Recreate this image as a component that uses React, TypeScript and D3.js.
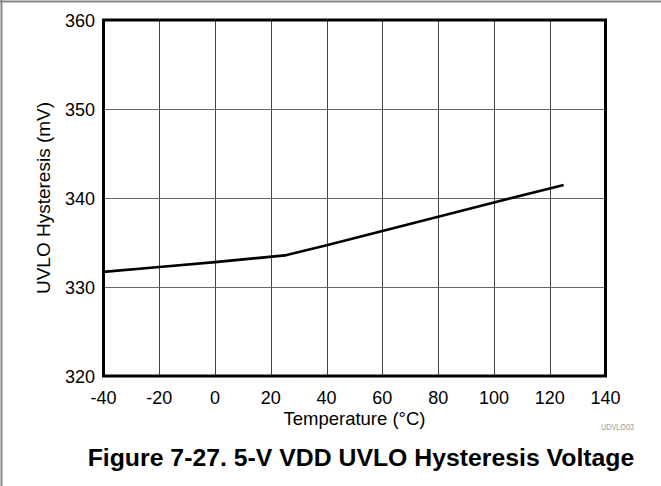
import * as d3 from 'd3';

const temps = [-40, -20, 0, 25, 40, 60, 80, 100, 125];
const hysteresis = [331.7, 332.25, 332.8, 333.55, 334.7, 336.3, 337.9, 339.5, 341.45];
const xTicks = [-40, -20, 0, 20, 40, 60, 80, 100, 120, 140];
const yTicks = [320, 330, 340, 350, 360];

const W = 661;
const H = 486;
const font = 'Arial, "Liberation Sans", Helvetica, sans-serif';

export default function App() {
  const x = d3.scaleLinear().domain([-40, 140]).range([103.5, 605.5]);
  const y = d3.scaleLinear().domain([320, 360]).range([376, 20]);

  const line = d3.line<number>()
    .x((_, i) => x(temps[i]))
    .y((d) => y(d));

  const [x0, x1] = x.range();
  const [y0, y1] = y.range();

  return (
    <svg width={W} height={H} style={{ position: 'absolute', left: 0, top: 0, background: '#fff' }}>
      {/* frame of the figure (top and left only) */}
      <line x1={0} x2={W} y1={1.5} y2={1.5} stroke="#888" strokeWidth={2} />
      <line x1={1.5} x2={1.5} y1={0} y2={H} stroke="#888" strokeWidth={2} />

      {/* grid */}
      {xTicks.slice(1, -1).map((t) => (
        <line key={'gx' + t} x1={Math.round(x(t)) + 0.5} x2={Math.round(x(t)) + 0.5} y1={y1} y2={y0}
          stroke="#444" strokeWidth={1} />
      ))}
      {yTicks.slice(1, -1).map((t) => (
        <line key={'gy' + t} x1={x0} x2={x1} y1={Math.round(y(t)) + 0.5} y2={Math.round(y(t)) + 0.5}
          stroke="#666" strokeWidth={1} />
      ))}

      {/* data */}
      <path d={line(hysteresis) || ''} fill="none" stroke="#000" strokeWidth={2.6} strokeLinejoin="round" />

      {/* plot border */}
      <rect x={x0} y={y1} width={x1 - x0} height={y0 - y1} fill="none" stroke="#000" strokeWidth={3} />

      {/* tick labels */}
      {yTicks.map((t) => (
        <text key={'ty' + t} x={95} y={y(t) + 6.5} textAnchor="end" fontFamily={font} fontSize={18} fill="#000">
          {t}
        </text>
      ))}
      {xTicks.map((t) => (
        <text key={'tx' + t} x={x(t)} y={403.5} textAnchor="middle" fontFamily={font} fontSize={18} fill="#000">
          {t}
        </text>
      ))}

      {/* axis titles */}
      <text x={(x0 + x1) / 2} y={424.5} textAnchor="middle" fontFamily={font} fontSize={18.5} fill="#000">
        Temperature (°C)
      </text>
      <text transform={`translate(49.5,${(y0 + y1) / 2}) rotate(-90)`} textAnchor="middle" fontFamily={font}
        fontSize={19} fill="#000">
        UVLO Hysteresis (mV)
      </text>

      <text x={601} y={430} fontFamily={font} fontSize={9} fill="#999" textLength={33} lengthAdjust="spacingAndGlyphs">
        UDVLO03
      </text>

      <text x={361} y={466} textAnchor="middle" fontFamily={font} fontSize={24.8} fontWeight="bold" fill="#000">
        Figure 7-27. 5-V VDD UVLO Hysteresis Voltage
      </text>
    </svg>
  );
}
